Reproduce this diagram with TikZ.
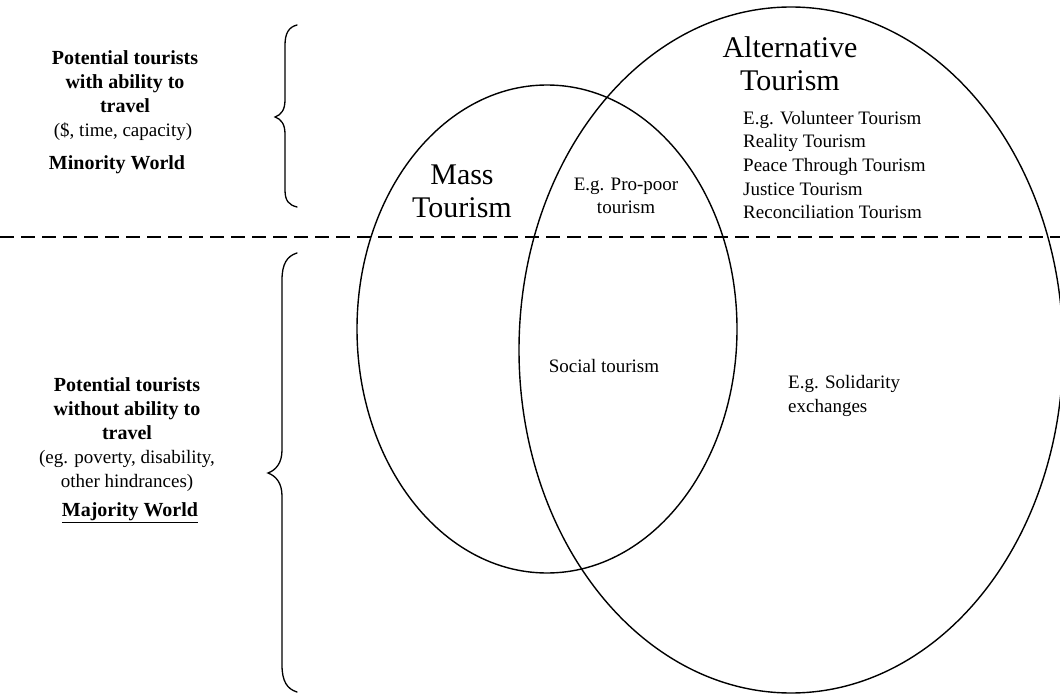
\documentclass[tikz,border=0pt]{standalone}
\usepackage{fontspec}
\setmainfont{Liberation Serif}
\usetikzlibrary{shapes.geometric}
\begin{document}
\begin{tikzpicture}[x=1pt,y=-1pt,
  ring/.style={draw, ellipse, line width=1.4pt, inner sep=0pt},
  big/.style={font=\fontsize{30}{33}\selectfont, align=center, inner sep=0pt},
  bodytxt/.style={font=\fontsize{19}{23.7}\selectfont, inner sep=0pt},
  boldtxt/.style={font=\fontsize{20}{24}\selectfont\bfseries, align=center, inner sep=0pt},
  bracepath/.style={line width=1.3pt, line cap=round},
  divider/.style={line width=1.3pt, dash pattern=on 14pt off 7pt}]
\useasboundingbox (0,0) rectangle (1060,695);
% ellipses
\node[ring, minimum width=380pt, minimum height=488pt] (mass) at (547,329) {};
\node[ring, minimum width=544pt, minimum height=686pt] (alt) at (791,350) {};
% divider
\coordinate (dl) at (0,237);
\coordinate (dr) at (1060,237);
\draw[divider] (dl) -- (dr);
% braces
\draw[bracepath] (297,25) .. controls (289,27) and (285,33) .. (285,45) -- (285,100)
  .. controls (285,110) and (281,115) .. (275,117)
  .. controls (281,119) and (285,124) .. (285,134) -- (285,190)
  .. controls (285,201) and (289,205) .. (297,207);
\draw[bracepath] (297,253) .. controls (287,256) and (282,264) .. (282,280) -- (282,450)
  .. controls (282,463) and (276,470) .. (268,473)
  .. controls (276,476) and (282,483) .. (282,496) -- (282,665)
  .. controls (282,681) and (287,689) .. (297,692);
% left texts
\node[boldtxt] (tl1) at (125,82) {Potential tourists\\with ability to\\travel};
\node[bodytxt] (tl2) at (123,132) {(\$, time, capacity)};
\node[boldtxt] (tl3) at (117,165) {Minority World};
\node[boldtxt] (bl1) at (127,409) {Potential tourists\\without ability to\\travel};
\node[bodytxt, align=center] (bl2) at (127,471) {(eg. poverty, disability,\\other hindrances)};
\node[boldtxt] (bl3) at (130,513) {\underline{Majority World}};
% circle titles
\node[big] (masst) at (462,191) {Mass\\Tourism};
\node[big] (altt) at (790,64) {Alternative\\Tourism};
% contents
\node[bodytxt, align=left, anchor=west] (ex) at (743,165) {E.g. Volunteer Tourism\\Reality Tourism\\Peace Through Tourism\\Justice Tourism\\Reconciliation Tourism};
\node[bodytxt, align=center] (pp) at (626,196) {E.g. Pro-poor\\tourism};
\node[bodytxt] (soc) at (604,366) {Social tourism};
\node[bodytxt, align=left, anchor=west] (sol) at (788,396) {E.g. Solidarity\\exchanges};
\end{tikzpicture}
\end{document}
